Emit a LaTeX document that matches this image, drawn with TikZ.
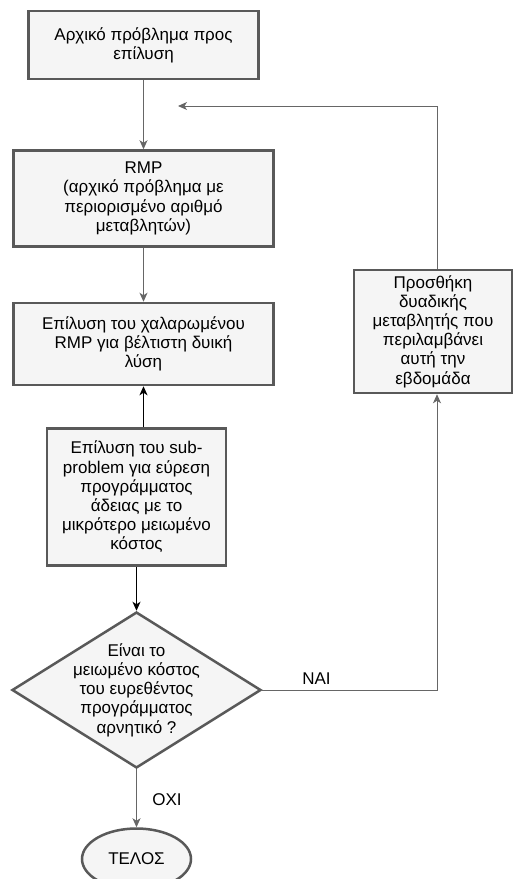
\documentclass[tikz,border=0pt]{standalone}
\usepackage{fontspec}
\setmainfont{Liberation Sans}
\usepackage{xcolor}
\usetikzlibrary{arrows.meta,positioning,shapes.geometric}

\definecolor{boxline}{HTML}{595959}
\definecolor{boxfill}{HTML}{F5F5F5}
\definecolor{edgegray}{HTML}{666666}

\begin{document}
\begin{tikzpicture}[x=1pt, y=-1pt,
    font=\fontsize{17}{19.2}\selectfont,
    process/.style={draw=boxline, fill=boxfill, line width=2.5pt, rectangle, align=center, inner sep=0pt},
    decision/.style={draw=boxline, fill=boxfill, line width=2.5pt, diamond, inner sep=0pt, minimum width=249pt, minimum height=156pt},
    terminal/.style={draw=boxline, fill=boxfill, line width=2.5pt, ellipse, inner sep=0pt, minimum width=109pt, minimum height=61pt},
    line/.style={draw=edgegray, line width=1pt, -{Stealth[length=9pt, width=8pt, inset=2.5pt]}},
    blackline/.style={line, draw=black}]

    \useasboundingbox (0,0) rectangle (514,879);

    % Start
    \node[process, minimum width=230pt, minimum height=68pt] (start) at (143.5,45) {Αρχικό πρόβλημα προς\\επίλυση};

    % RMP
    \node[process, below=69pt of start, minimum width=260pt, minimum height=96pt] (rmp) {RMP\\(αρχικό πρόβλημα με\\περιορισμένο αριθμό\\μεταβλητών)};

    % Relaxed RMP
    \node[process, below=54pt of rmp, minimum width=260pt, minimum height=82pt] (solve) {Επίλυση του χαλαρωμένου\\RMP για βέλτιστη δυική\\λύση};

    % Subproblem
    \node[process, below=41pt of solve, xshift=-7pt, minimum width=179pt, minimum height=137pt] (sub) {Επίλυση του sub-\\problem για εύρεση\\προγράμματος\\άδειας με το\\μικρότερο μειωμένο\\κόστος};

    % Decision
    \node[decision, below=44pt of sub, label={[align=center, font=\fontsize{17}{19.2}\selectfont]center:Είναι το\\μειωμένο κόστος\\του ευρεθέντος\\προγράμματος\\αρνητικό ?}] (dec) {};

    % End
    \node[terminal, below=58pt of dec] (end) {ΤΕΛΟΣ};

    % New column
    \node[process, minimum width=158pt, minimum height=123pt] (add) at (433,331.5) {Προσθήκη\\δυαδικής\\μεταβλητής που\\περιλαμβάνει\\αυτή την\\εβδομάδα};

    \coordinate (back) at (178,106);

    \draw[line] (start) -- (rmp);
    \draw[line] (rmp) -- (solve);
    \draw[blackline] (solve.south |- sub.north) -- (solve.south);
    \draw[blackline] (sub) -- (dec);
    \draw[line] (dec) -- node[pos=0.52, right=12pt] {ΟΧΙ} (end);
    \draw[line] (dec.east) -| node[pos=0.155, above=2pt] {ΝΑΙ} ([xshift=4pt]add.south);
    \draw[line] ([xshift=4pt]add.north) |- (back);

\end{tikzpicture}
\end{document}
